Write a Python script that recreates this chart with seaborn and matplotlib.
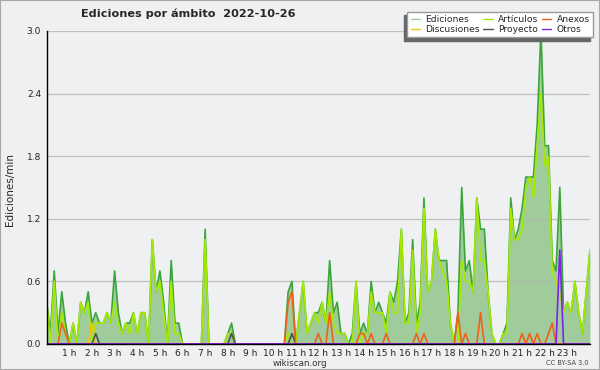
import numpy as np
import pandas as pd
import matplotlib
matplotlib.use("Agg")
import matplotlib.pyplot as plt
from matplotlib.lines import Line2D
from matplotlib.patches import Rectangle
import seaborn as sns

# one sample every 10 minutes, 0 h .. 24 h (edits per minute)
horas = np.arange(145) / 6

ediciones = [
    0.4, 0.1, 0.7, 0.1, 0.5, 0.2, 0.0, 0.2, 0.0, 0.4,
    0.3, 0.5, 0.2, 0.3, 0.2, 0.2, 0.3, 0.2, 0.7, 0.3,
    0.1, 0.2, 0.2, 0.3, 0.1, 0.3, 0.3, 0.0, 1.0, 0.5,
    0.7, 0.4, 0.0, 0.8, 0.2, 0.2, 0.0, 0.0, 0.0, 0.0,
    0.0, 0.0, 1.1, 0.0, 0.0, 0.0, 0.0, 0.0, 0.1, 0.2,
    0.0, 0.0, 0.0, 0.0, 0.0, 0.0, 0.0, 0.0, 0.0, 0.0,
    0.0, 0.0, 0.0, 0.0, 0.5, 0.6, 0.0, 0.3, 0.6, 0.1,
    0.2, 0.3, 0.3, 0.4, 0.2, 0.8, 0.3, 0.4, 0.1, 0.1,
    0.0, 0.1, 0.6, 0.1, 0.2, 0.1, 0.6, 0.3, 0.4, 0.3,
    0.2, 0.5, 0.4, 0.6, 1.1, 0.2, 0.3, 1.0, 0.2, 0.4,
    1.4, 0.5, 0.6, 1.1, 0.8, 0.8, 0.8, 0.2, 0.0, 0.3,
    1.5, 0.7, 0.8, 0.5, 1.4, 1.1, 1.1, 0.5, 0.1, 0.0,
    0.0, 0.1, 0.2, 1.4, 1.0, 1.1, 1.3, 1.6, 1.6, 1.6,
    2.1, 3.0, 1.9, 1.9, 0.8, 0.7, 1.5, 0.3, 0.4, 0.3,
    0.6, 0.3, 0.1, 0.5, 0.9,
]

articulos = [
    0.4, 0.0, 0.6, 0.0, 0.3, 0.1, 0.0, 0.2, 0.0, 0.4,
    0.3, 0.4, 0.0, 0.2, 0.2, 0.2, 0.3, 0.2, 0.4, 0.2,
    0.1, 0.2, 0.1, 0.3, 0.1, 0.3, 0.3, 0.0, 1.0, 0.5,
    0.6, 0.3, 0.0, 0.6, 0.1, 0.1, 0.0, 0.0, 0.0, 0.0,
    0.0, 0.0, 1.0, 0.0, 0.0, 0.0, 0.0, 0.0, 0.1, 0.1,
    0.0, 0.0, 0.0, 0.0, 0.0, 0.0, 0.0, 0.0, 0.0, 0.0,
    0.0, 0.0, 0.0, 0.0, 0.1, 0.0, 0.0, 0.3, 0.6, 0.1,
    0.2, 0.3, 0.2, 0.4, 0.2, 0.5, 0.2, 0.1, 0.1, 0.1,
    0.0, 0.0, 0.6, 0.0, 0.1, 0.1, 0.5, 0.3, 0.3, 0.3,
    0.1, 0.5, 0.3, 0.3, 1.1, 0.2, 0.2, 0.9, 0.1, 0.3,
    1.3, 0.5, 0.6, 1.1, 0.8, 0.7, 0.6, 0.2, 0.0, 0.0,
    0.8, 0.6, 0.6, 0.5, 1.4, 0.8, 0.8, 0.5, 0.1, 0.0,
    0.0, 0.1, 0.1, 1.3, 1.0, 1.0, 1.1, 1.5, 1.6, 1.4,
    1.9, 2.4, 1.7, 1.8, 0.7, 0.6, 0.5, 0.3, 0.4, 0.3,
    0.6, 0.3, 0.1, 0.5, 0.9,
]

anexos = [
    0.0, 0.0, 0.0, 0.0, 0.2, 0.1, 0.0, 0.0, 0.0, 0.0,
    0.0, 0.0, 0.0, 0.0, 0.0, 0.0, 0.0, 0.0, 0.0, 0.0,
    0.0, 0.0, 0.0, 0.0, 0.0, 0.0, 0.0, 0.0, 0.0, 0.0,
    0.0, 0.0, 0.0, 0.0, 0.0, 0.0, 0.0, 0.0, 0.0, 0.0,
    0.0, 0.0, 0.0, 0.0, 0.0, 0.0, 0.0, 0.0, 0.0, 0.0,
    0.0, 0.0, 0.0, 0.0, 0.0, 0.0, 0.0, 0.0, 0.0, 0.0,
    0.0, 0.0, 0.0, 0.0, 0.4, 0.5, 0.0, 0.0, 0.0, 0.0,
    0.0, 0.0, 0.1, 0.0, 0.0, 0.3, 0.0, 0.0, 0.0, 0.0,
    0.0, 0.0, 0.0, 0.1, 0.1, 0.0, 0.1, 0.0, 0.0, 0.0,
    0.1, 0.0, 0.0, 0.0, 0.0, 0.0, 0.0, 0.0, 0.1, 0.0,
    0.1, 0.0, 0.0, 0.0, 0.0, 0.0, 0.0, 0.0, 0.0, 0.3,
    0.0, 0.1, 0.0, 0.0, 0.0, 0.3, 0.0, 0.0, 0.0, 0.0,
    0.0, 0.0, 0.0, 0.0, 0.0, 0.0, 0.1, 0.0, 0.1, 0.0,
    0.1, 0.0, 0.0, 0.1, 0.2, 0.0, 0.0, 0.0, 0.0, 0.0,
    0.0, 0.0, 0.0, 0.0, 0.0,
]

discusiones = [
    0.0, 0.0, 0.0, 0.0, 0.0, 0.0, 0.0, 0.0, 0.0, 0.0,
    0.0, 0.0, 0.2, 0.0, 0.0, 0.0, 0.0, 0.0, 0.0, 0.0,
    0.0, 0.0, 0.0, 0.0, 0.0, 0.0, 0.0, 0.0, 0.0, 0.0,
    0.0, 0.0, 0.0, 0.0, 0.0, 0.0, 0.0, 0.0, 0.0, 0.0,
    0.0, 0.0, 0.0, 0.0, 0.0, 0.0, 0.0, 0.0, 0.0, 0.0,
    0.0, 0.0, 0.0, 0.0, 0.0, 0.0, 0.0, 0.0, 0.0, 0.0,
    0.0, 0.0, 0.0, 0.0, 0.0, 0.0, 0.0, 0.0, 0.0, 0.0,
    0.0, 0.0, 0.0, 0.0, 0.0, 0.0, 0.0, 0.0, 0.0, 0.0,
    0.0, 0.0, 0.0, 0.0, 0.0, 0.0, 0.0, 0.0, 0.0, 0.0,
    0.0, 0.0, 0.0, 0.0, 0.0, 0.0, 0.0, 0.0, 0.0, 0.0,
    0.0, 0.0, 0.0, 0.0, 0.0, 0.0, 0.0, 0.0, 0.0, 0.0,
    0.0, 0.0, 0.0, 0.0, 0.0, 0.0, 0.0, 0.0, 0.0, 0.0,
    0.0, 0.0, 0.0, 0.0, 0.0, 0.0, 0.0, 0.0, 0.0, 0.0,
    0.0, 0.0, 0.0, 0.0, 0.0, 0.0, 0.0, 0.0, 0.0, 0.0,
    0.0, 0.0, 0.0, 0.0, 0.0,
]

proyecto = [
    0.0, 0.0, 0.0, 0.0, 0.0, 0.0, 0.0, 0.0, 0.0, 0.0,
    0.0, 0.0, 0.0, 0.1, 0.0, 0.0, 0.0, 0.0, 0.0, 0.0,
    0.0, 0.0, 0.0, 0.0, 0.0, 0.0, 0.0, 0.0, 0.0, 0.0,
    0.0, 0.0, 0.0, 0.0, 0.0, 0.0, 0.0, 0.0, 0.0, 0.0,
    0.0, 0.0, 0.0, 0.0, 0.0, 0.0, 0.0, 0.0, 0.0, 0.1,
    0.0, 0.0, 0.0, 0.0, 0.0, 0.0, 0.0, 0.0, 0.0, 0.0,
    0.0, 0.0, 0.0, 0.0, 0.0, 0.1, 0.0, 0.0, 0.0, 0.0,
    0.0, 0.0, 0.0, 0.0, 0.0, 0.0, 0.0, 0.0, 0.0, 0.0,
    0.0, 0.0, 0.0, 0.0, 0.0, 0.0, 0.0, 0.0, 0.0, 0.0,
    0.0, 0.0, 0.0, 0.0, 0.0, 0.0, 0.0, 0.0, 0.0, 0.0,
    0.0, 0.0, 0.0, 0.0, 0.0, 0.0, 0.0, 0.0, 0.0, 0.0,
    0.0, 0.0, 0.0, 0.0, 0.0, 0.0, 0.0, 0.0, 0.0, 0.0,
    0.0, 0.0, 0.0, 0.0, 0.0, 0.0, 0.0, 0.0, 0.0, 0.0,
    0.0, 0.0, 0.0, 0.0, 0.0, 0.0, 0.0, 0.0, 0.0, 0.0,
    0.0, 0.0, 0.0, 0.0, 0.0,
]

otros = [
    0.0, 0.0, 0.0, 0.0, 0.0, 0.0, 0.0, 0.0, 0.0, 0.0,
    0.0, 0.0, 0.0, 0.0, 0.0, 0.0, 0.0, 0.0, 0.0, 0.0,
    0.0, 0.0, 0.0, 0.0, 0.0, 0.0, 0.0, 0.0, 0.0, 0.0,
    0.0, 0.0, 0.0, 0.0, 0.0, 0.0, 0.0, 0.0, 0.0, 0.0,
    0.0, 0.0, 0.0, 0.0, 0.0, 0.0, 0.0, 0.0, 0.0, 0.0,
    0.0, 0.0, 0.0, 0.0, 0.0, 0.0, 0.0, 0.0, 0.0, 0.0,
    0.0, 0.0, 0.0, 0.0, 0.0, 0.0, 0.0, 0.0, 0.0, 0.0,
    0.0, 0.0, 0.0, 0.0, 0.0, 0.0, 0.0, 0.0, 0.0, 0.0,
    0.0, 0.0, 0.0, 0.0, 0.0, 0.0, 0.0, 0.0, 0.0, 0.0,
    0.0, 0.0, 0.0, 0.0, 0.0, 0.0, 0.0, 0.0, 0.0, 0.0,
    0.0, 0.0, 0.0, 0.0, 0.0, 0.0, 0.0, 0.0, 0.0, 0.0,
    0.0, 0.0, 0.0, 0.0, 0.0, 0.0, 0.0, 0.0, 0.0, 0.0,
    0.0, 0.0, 0.0, 0.0, 0.0, 0.0, 0.0, 0.0, 0.0, 0.0,
    0.0, 0.0, 0.0, 0.0, 0.0, 0.0, 0.9, 0.0, 0.0, 0.0,
    0.0, 0.0, 0.0, 0.0, 0.0,
]

fondo = "#eff0f2"
relleno = "#a0cc9c"
colores = {
    "Ediciones": "#3aa63a",
    "Artículos": "#a6ea00",
    "Discusiones": "#f5c400",
    "Proyecto": "#505050",
    "Anexos": "#f0601a",
    "Otros": "#7f1ff0",
}
orden = ["Ediciones", "Artículos", "Discusiones", "Proyecto", "Anexos", "Otros"]

df = pd.DataFrame({
    "hora": horas,
    "Ediciones": ediciones,
    "Artículos": articulos,
    "Discusiones": discusiones,
    "Proyecto": proyecto,
    "Anexos": anexos,
    "Otros": otros,
})
largo = df.melt(id_vars="hora", var_name="ambito", value_name="valor")

sns.set_theme(style="white")
plt.rcParams["font.family"] = ["DejaVu Sans"]

fig = plt.figure(figsize=(6, 3.7), dpi=100, facecolor=fondo)
ax = fig.add_axes([0.0778, 0.0703, 0.9055, 0.846], facecolor=fondo)

# filled total area, then every series as a line
ax.fill_between(df["hora"], df["Ediciones"], color=relleno, lw=0, zorder=1)
sns.lineplot(data=largo, x="hora", y="valor", hue="ambito", hue_order=orden,
             palette=colores, lw=1.2, errorbar=None, legend=False,
             ax=ax, zorder=3)

ax.set_xlim(0, 24)
ax.set_ylim(0, 3.0)
ax.set_xlabel("")
ax.set_ylabel("")

ax.set_yticks(np.arange(0, 3.01, 0.6))
ax.set_yticklabels([f"{v:.1f}" for v in np.arange(0, 3.01, 0.6)])
ax.set_yticks(np.arange(0, 3.01, 0.15), minor=True)
ax.set_xticks(range(1, 24))
ax.set_xticklabels([f"{h} h" for h in range(1, 24)])
ax.set_xticks(np.arange(0, 24.01, 1 / 6), minor=True)
ax.tick_params(which="both", direction="out", length=3, width=0.9,
               color="black", labelsize=6.5, labelcolor="#222222")
ax.tick_params(axis="x", pad=0.3)
ax.tick_params(axis="y", pad=1.0)

ax.set_axisbelow("line")
ax.yaxis.grid(True, color="#b4b4b4", lw=0.9, alpha=0.8)
ax.xaxis.grid(False)
for side in ["top", "right"]:
    ax.spines[side].set_visible(False)
for side in ["left", "bottom"]:
    ax.spines[side].set_color("black")
    ax.spines[side].set_linewidth(1.0)
    ax.spines[side].set_zorder(5)

fig.text(188 / 600, 1 - 14 / 370, "Ediciones por ámbito  2022-10-26",
         ha="center", va="center", fontsize=8.1, fontweight="bold")
fig.text(10 / 600, 1 - 189 / 370, "Ediciones/min", rotation=90,
         ha="center", va="center", fontsize=7.5)
fig.text(300 / 600, 1 - 363 / 370, "wikiscan.org", ha="center",
         va="center", fontsize=6.3, color="#333333")
fig.text(589 / 600, 1 - 363 / 370, "CC BY-SA 3.0", ha="right",
         va="center", fontsize=4.8, color="#444444")

# legend: 3 columns, filled column by column
ley = ["Ediciones", "Discusiones", "Artículos", "Proyecto", "Anexos", "Otros"]
handles = [Line2D([], [], lw=1.0,
                  color=relleno if k == "Ediciones" else colores[k])
           for k in ley]
fig.legend(handles, ley, ncol=3, loc="upper right",
           bbox_to_anchor=(593 / 600, 1 - 12 / 370), fontsize=6.6,
           frameon=True, fancybox=False, edgecolor="#9a9a9a",
           facecolor="white", framealpha=1,
           shadow={"ox": -2.5, "oy": -2.5, "color": "#666666", "alpha": 1},
           handlelength=1.0, handletextpad=0.6, columnspacing=0.4,
           labelspacing=0.1, borderpad=0.35, borderaxespad=0)

fig.patches.append(Rectangle((0, 0), 1, 1, transform=fig.transFigure,
                             fill=False, ec="#a8a8a8", lw=1.5))

fig.savefig("out.png", dpi=100, facecolor=fondo)
